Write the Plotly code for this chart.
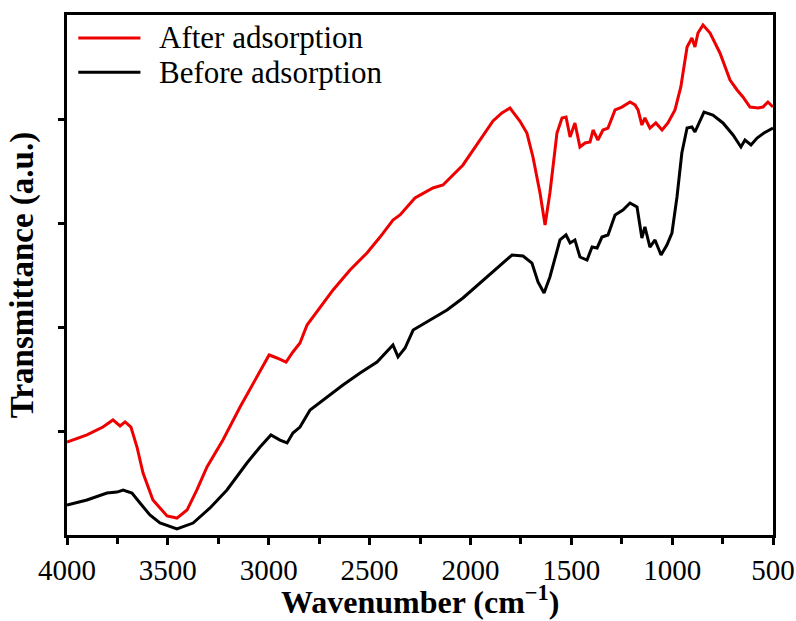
import plotly.graph_objects as go

# ---- data ----
after_wn = [4000, 3901, 3822, 3772, 3737, 3712, 3683, 3653, 3623, 3574, 3504, 3455, 3405, 3356,
            3306, 3227, 3142, 3058, 2998, 2959, 2914, 2880, 2845, 2810, 2746, 2681, 2597, 2513,
            2448, 2384, 2349, 2275, 2186, 2136, 2037, 1953, 1888, 1844, 1804, 1755, 1720, 1690,
            1655, 1630, 1606, 1571, 1546, 1526, 1506, 1482, 1457, 1432, 1407, 1392, 1368, 1343,
            1318, 1283, 1249, 1209, 1184, 1169, 1150, 1135, 1110, 1081, 1050, 1021, 986, 957,
            926, 902, 887, 872, 847, 812, 763, 713, 678, 649, 614, 574, 550, 525, 500]
after_t = [0.894, 0.962, 1.038, 1.106, 1.048, 1.087, 1.038, 0.846, 0.596, 0.337, 0.183, 0.163,
           0.240, 0.433, 0.654, 0.913, 1.231, 1.519, 1.731, 1.702, 1.663, 1.760, 1.846, 2.019,
           2.192, 2.356, 2.548, 2.712, 2.865, 3.029, 3.077, 3.240, 3.337, 3.365, 3.558, 3.798,
           3.981, 4.058, 4.106, 3.981, 3.865, 3.635, 3.288, 2.981, 3.288, 3.865, 4.010, 4.019,
           3.827, 3.962, 3.731, 3.769, 3.779, 3.894, 3.798, 3.894, 3.913, 4.087, 4.115, 4.163,
           4.135, 4.087, 3.942, 4.010, 3.913, 3.962, 3.894, 3.962, 4.087, 4.308, 4.692, 4.779,
           4.692, 4.827, 4.904, 4.827, 4.635, 4.375, 4.279, 4.212, 4.115, 4.106, 4.115, 4.163,
           4.115]

before_wn = [4000, 3901, 3802, 3752, 3722, 3678, 3638, 3589, 3539, 3455, 3375, 3291, 3207, 3108,
             3043, 2989, 2944, 2909, 2880, 2845, 2795, 2711, 2632, 2547, 2463, 2384, 2359, 2324,
             2284, 2200, 2116, 2037, 1953, 1868, 1794, 1739, 1695, 1665, 1635, 1606, 1556, 1526,
             1506, 1482, 1457, 1422, 1397, 1372, 1348, 1318, 1283, 1244, 1209, 1174, 1150, 1135,
             1110, 1085, 1055, 1026, 1001, 976, 952, 926, 902, 887, 867, 842, 798, 748, 698, 659,
             639, 609, 579, 545, 500]
before_t = [0.288, 0.337, 0.404, 0.413, 0.433, 0.404, 0.308, 0.192, 0.115, 0.058, 0.115, 0.260,
            0.433, 0.692, 0.846, 0.962, 0.913, 0.885, 0.981, 1.038, 1.202, 1.327, 1.442, 1.558,
            1.663, 1.827, 1.712, 1.798, 1.971, 2.067, 2.163, 2.279, 2.423, 2.567, 2.692, 2.683,
            2.615, 2.433, 2.327, 2.481, 2.837, 2.885, 2.808, 2.837, 2.673, 2.644, 2.769, 2.760,
            2.865, 2.885, 3.077, 3.125, 3.192, 3.154, 2.856, 2.962, 2.769, 2.837, 2.692, 2.788,
            2.904, 3.250, 3.673, 3.913, 3.923, 3.875, 3.962, 4.067, 4.038, 3.962, 3.846, 3.731,
            3.798, 3.750, 3.817, 3.865, 3.913]

series_names = ["After adsorption", "Before adsorption"]
series_colors = ["#ee0000", "#000000"]
x_ticks = [4000, 3500, 3000, 2500, 2000, 1500, 1000, 500]
x_minor = [3750, 3250, 2750, 2250, 1750, 1250, 750]
y_ticks = [1, 2, 3, 4]
x_title = "Wavenumber (cm<sup>−1</sup>)"
y_title = "Transmittance (a.u.)"

FONT = "Liberation Serif"

fig = go.Figure()
fig.add_trace(go.Scatter(x=before_wn, y=before_t, mode="lines", name=series_names[1],
                         line=dict(color=series_colors[1], width=3), showlegend=False))
fig.add_trace(go.Scatter(x=after_wn, y=after_t, mode="lines", name=series_names[0],
                         line=dict(color=series_colors[0], width=3), showlegend=False))

# manual legend (long line samples as in the reference)
legend_rows = [(0.956, series_names[0], series_colors[0]),
               (0.89, series_names[1], series_colors[1])]
for yy, name, col in legend_rows:
    fig.add_shape(type="line", xref="paper", yref="paper", x0=0.016, x1=0.104, y0=yy, y1=yy,
                  line=dict(color=col, width=3))
    fig.add_annotation(xref="paper", yref="paper", x=0.128, y=yy, text=name, showarrow=False,
                       xanchor="left", yanchor="middle",
                       font=dict(family=FONT, size=31, color="black"))

# x-axis title placed as a text annotation below the tick labels
fig.add_annotation(xref="paper", yref="paper", x=0.5, y=-0.125, text="<b>" + x_title + "</b>",
                   showarrow=False, xanchor="center", yanchor="middle",
                   font=dict(family=FONT, size=32, color="black"))

fig.update_layout(
    width=796, height=621,
    margin=dict(l=67, r=23, t=15, b=86, autoexpand=False),
    plot_bgcolor="white", paper_bgcolor="white",
    font=dict(family=FONT, color="black"),
)
fig.update_xaxes(
    range=[4000, 500], tickvals=x_ticks, ticktext=[str(v) for v in x_ticks],
    ticks="outside", ticklen=7, tickwidth=2.5, tickcolor="black",
    minor=dict(tickvals=x_minor, ticks="outside",
               ticklen=6, tickwidth=2.5, tickcolor="black"),
    showline=True, linewidth=3, linecolor="black", mirror=True,
    showgrid=False, zeroline=False, automargin=False,
    tickfont=dict(family=FONT, size=29, color="black"),
)
fig.update_yaxes(
    range=[0, 5], tickvals=y_ticks, showticklabels=False,
    ticks="outside", ticklen=6, tickwidth=2.5, tickcolor="black",
    showline=True, linewidth=3, linecolor="black", mirror=True,
    showgrid=False, zeroline=False, automargin=False,
    title=dict(text=y_title, standoff=15,
               font=dict(family=FONT, size=33, color="black", weight="bold")),
)

fig.write_html("out.html")
